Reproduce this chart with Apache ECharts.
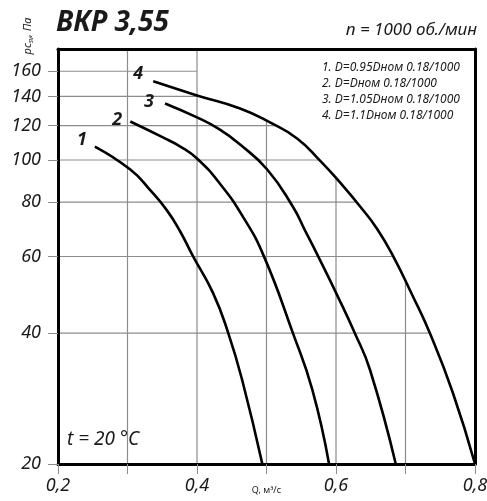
<!DOCTYPE html>
<html><head><meta charset="utf-8">
<script src="https://cdn.jsdelivr.net/npm/echarts@6/dist/echarts.min.js"></script>
<style>html,body{margin:0;padding:0;background:#fff}#c{width:487px;height:501px}</style>
</head><body><div id="c"></div>
<script>
const xTicks = [0.2, 0.3, 0.4, 0.5, 0.6, 0.7, 0.8];
const xLabels = [0.2, 0.4, 0.6, 0.8];
const yTicks = [20, 40, 60, 80, 100, 120, 140, 160];
const curveNames = ['1', '2', '3', '4'];
const curve1Q = [0.253, 0.304, 0.332, 0.357, 0.376, 0.394, 0.423, 0.445, 0.465, 0.494];
const curve1P = [107.4, 95.1, 85.5, 76.5, 68.4, 60.2, 49.5, 40.0, 31.2, 20];
const curve2Q = [0.304, 0.351, 0.376, 0.400, 0.433, 0.466, 0.496, 0.538, 0.566, 0.590];
const curve2P = [122.6, 112.7, 107.4, 100.8, 88.2, 74.1, 60.2, 40.0, 29.6, 20];
const curve3Q = [0.354, 0.400, 0.433, 0.462, 0.501, 0.538, 0.555, 0.574, 0.603, 0.627, 0.649, 0.686];
const curve3P = [134.9, 125.3, 117.5, 108.5, 95.1, 78.1, 69.1, 60.2, 48.4, 40.0, 32.9, 20];
const curve4Q = [0.337, 0.400, 0.462, 0.505, 0.544, 0.577, 0.606, 0.635, 0.659, 0.682, 0.709, 0.735, 0.768, 0.800];
const curve4P = [151.7, 140.8, 131.4, 122.0, 112.1, 99.7, 88.7, 78.1, 69.5, 60.2, 49.2, 40.0, 29.2, 20];
const legendLines = ['1. D=0.95Dном 0.18/1000', '2. D=Dном 0.18/1000', '3. D=1.05Dном 0.18/1000', '4. D=1.1Dном 0.18/1000'];

const FONT = 'Noto Sans';
const TXT = '#1a1a1a';
const GRID = '#8c8c8c';
const labelOffsets = [[-13, -7], [-13, -2], [-16, -2], [-15, -7]];
const curves = [[curve1Q, curve1P], [curve2Q, curve2P], [curve3Q, curve3P], [curve4Q, curve4P]];
const Q_MIN = 0.2, Q_MAX = 0.8, P_MIN = 20, P_MAX = 180;
const maskStart = 0.4;
const SMOOTH = 0.5;

const gridSeries = (pts, z) => ({
  type: 'line', z: z, silent: true, symbol: 'none', smooth: false, animation: false,
  lineStyle: { color: GRID, width: 1.2, opacity: 1 }, data: pts
});

const series = [];
// horizontal grid lines (below the white mask)
yTicks.filter(v => v > P_MIN).forEach(v => series.push(gridSeries([[Q_MIN, v], [Q_MAX, v]], 1)));
// vertical grid lines: right of the mask start go below it, the others above it
xTicks.filter(x => x > Q_MIN && x < Q_MAX).forEach(x =>
  series.push(gridSeries([[x, P_MIN], [x, P_MAX]], x > maskStart ? 1 : 4)));
// white mask above the outermost curve hides gridlines there
series.push({
  type: 'line', smooth: SMOOTH, z: 3, silent: true, symbol: 'none',
  lineStyle: { width: 0, opacity: 0 },
  areaStyle: { color: '#fff', opacity: 1, origin: 'end' },
  data: curve4Q.map((x, j) => [x, curve4P[j]]).filter(d => d[0] >= maskStart)
});
curves.forEach(([q, p], i) => series.push({
  type: 'line', smooth: SMOOTH, z: 5, silent: true, symbol: 'none',
  lineStyle: { color: '#000', width: 2.6 },
  data: q.map((x, j) => [x, p[j]]),
  markPoint: {
    silent: true, symbol: 'circle', symbolSize: 1, itemStyle: { color: 'rgba(0,0,0,0)' },
    label: { show: true, formatter: curveNames[i], position: 'inside', offset: labelOffsets[i],
      fontFamily: FONT, fontStyle: 'italic', fontWeight: 'bold', fontSize: 18, color: TXT },
    data: [{ coord: [q[0], p[0]] }]
  }
}));

const chart = echarts.init(document.getElementById('c'), null, { renderer: 'canvas' });
chart.setOption({
  animation: false,
  backgroundColor: '#fff',
  title: [
    { text: 'ВКР 3,55', left: 56, top: 9, padding: 0,
      textStyle: { fontFamily: FONT, fontStyle: 'italic', fontWeight: 'bold', fontSize: 28, color: TXT } },
    { text: 'n = 1000 об./мин', right: 10, top: 22, padding: 0,
      textStyle: { fontFamily: FONT, fontStyle: 'italic', fontWeight: 'normal', fontSize: 17, color: TXT } },
    { text: legendLines.join('\n'), left: 322, top: 60, padding: 0,
      textStyle: { fontFamily: FONT, fontStyle: 'italic', fontWeight: 'normal', fontSize: 12, lineHeight: 16, color: TXT } },
    { text: 't = 20 °C', left: 67, top: 430, padding: 0,
      textStyle: { fontFamily: FONT, fontStyle: 'italic', fontWeight: 'normal', fontSize: 19, color: TXT } }
  ],
  graphic: [{
    type: 'text', x: 28, y: 36, rotation: Math.PI / 2,
    style: { text: '{a|pc}{b|sv}{a|, Па}', align: 'center', verticalAlign: 'middle',
      rich: { a: { fontFamily: FONT, fontStyle: 'italic', fontSize: 11, fill: TXT },
              b: { fontFamily: FONT, fontStyle: 'italic', fontSize: 7, fill: TXT, padding: [6, 0, 0, 0] } } }
  }],
  grid: { left: 58, right: 12, top: 49, bottom: 37, containLabel: false, outerBoundsMode: 'none' },
  xAxis: [{
    type: 'value', min: Q_MIN, max: Q_MAX, interval: 0.1, z: 6,
    name: 'Q, м³/с', nameLocation: 'middle', nameGap: 22, nameMoveOverlap: false,
    nameTextStyle: { fontFamily: FONT, fontSize: 9, color: TXT },
    axisLine: { show: true, lineStyle: { color: '#000', width: 3 } },
    axisTick: { show: true, length: 10, customValues: xTicks, lineStyle: { color: GRID, width: 1 } },
    axisLabel: { customValues: xLabels, margin: 13, fontFamily: FONT, fontStyle: 'italic', fontSize: 18, color: TXT,
      formatter: v => v.toFixed(1).replace('.', ',') },
    splitLine: { show: false }
  }, {
    type: 'value', position: 'top', min: Q_MIN, max: Q_MAX, z: 6,
    axisLine: { show: true, onZero: false, lineStyle: { color: '#000', width: 3 } },
    axisTick: { show: false }, axisLabel: { show: false }, splitLine: { show: false }
  }],
  yAxis: [{
    type: 'log', min: P_MIN, max: P_MAX, z: 6,
    axisLine: { show: true, lineStyle: { color: '#000', width: 3 } },
    axisTick: { show: true, length: 10, customValues: yTicks, lineStyle: { color: GRID, width: 1 } },
    axisLabel: { customValues: yTicks, margin: 17, fontFamily: FONT, fontStyle: 'italic', fontSize: 18, color: TXT },
    splitLine: { show: false }
  }, {
    type: 'log', position: 'right', min: P_MIN, max: P_MAX, z: 6,
    axisLine: { show: true, lineStyle: { color: '#000', width: 3 } },
    axisTick: { show: false }, axisLabel: { show: false }, splitLine: { show: false }
  }],
  series: series
});
</script></body></html>
